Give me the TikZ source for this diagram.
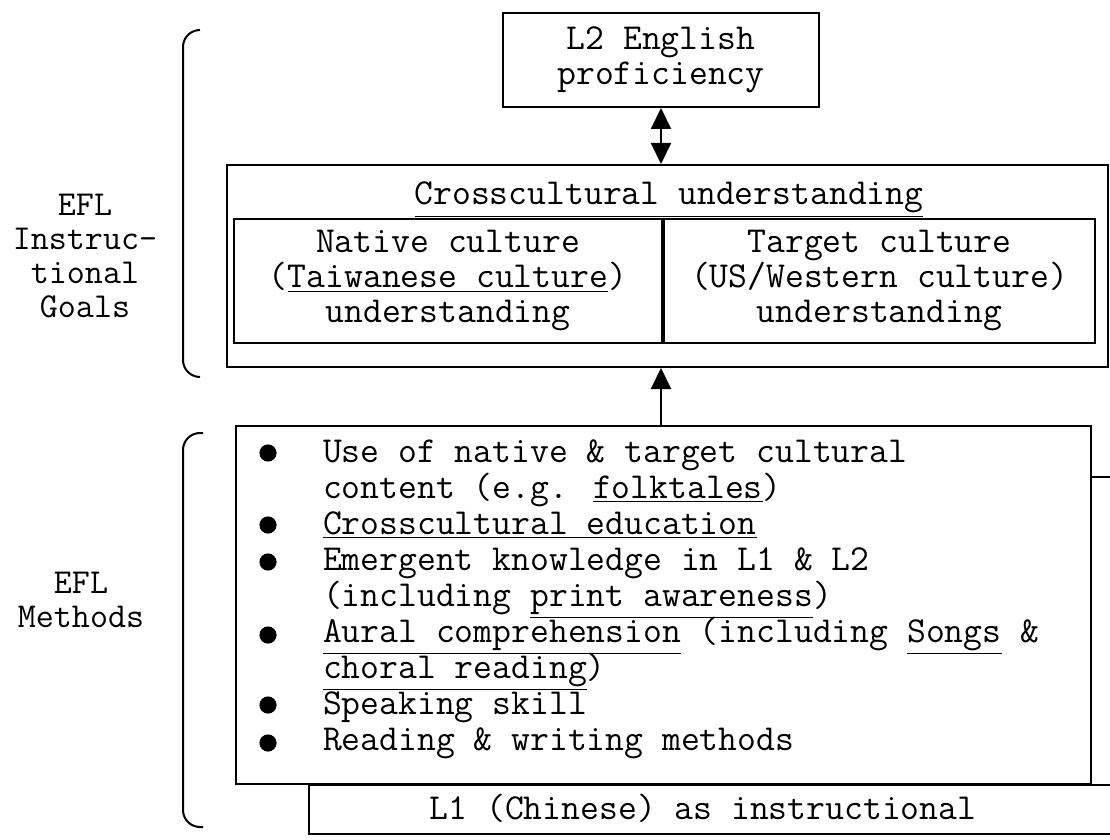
\documentclass[tikz,border=0pt]{standalone}
\usepackage{fontspec}
\usepackage{tikz}
\usetikzlibrary{arrows.meta,positioning}

\begin{document}
\begin{tikzpicture}[x=0.5pt, y=-0.5pt, line width=1pt,
	box node/.style={rectangle,draw,align=center,inner sep=0pt,
		font=\ttfamily\fontsize{18.3}{17.5}\selectfont},
	side node/.style={align=center,font=\ttfamily\fontsize{17.5}{17}\selectfont},
	list node/.style={anchor=base west,inner sep=0pt,font=\ttfamily\fontsize{18.3}{18}\selectfont},
	arr/.style={-{Triangle[width=10pt,length=10.5pt]}}]
	
	\useasboundingbox (0,0) rectangle (1110,840);
	\clip (0,0) rectangle (1110,840);
	
	% goals
	\node[box node, minimum width=158pt, minimum height=47pt] (prof) at (661,60) {L2 English\\proficiency};
	\node[box node, minimum width=440.5pt, minimum height=101pt] (cross) at (667.5,266) {};
	\node[box node, minimum width=214pt, minimum height=62pt] (native) at (448,281)
		{Native culture\\(\underline{Taiwanese culture})\\understanding};
	\node[box node, minimum width=215.5pt, minimum height=62pt] (target) [right=0pt of native]
		{Target culture\\(US/Western culture)\\understanding};
	\node[list node, anchor=base] (crosstitle) at (669,205) {\underline{Crosscultural understanding}};
	
	% methods
	\node[box node, minimum width=427.5pt, minimum height=179pt] (methods) at (663.5,605) {};
	\foreach \y in {453,525,562,635,705,743}
		\fill (268,\y) circle[radius=4.3pt];
	\foreach \txt [count=\i from 0] in {{Use of native \& target cultural},
		{content (e.g. \underline{folktales})},
		{\underline{Crosscultural education}},
		{Emergent knowledge in L1 \& L2},
		{(including \underline{print awareness})},
		{\underline{Aural comprehension} (including \underline{Songs} \&},
		{\underline{choral reading})},
		{Speaking skill},
		{Reading \& writing methods}}
		\node[list node] (item\i) at (322,{462+36*\i}) {\txt};
	\node[box node, minimum width=411pt, minimum height=24.5pt, anchor=north west] (lone) at (308,784) {};
	\node[list node, anchor=base] (lonetext) at (703,819) {L1 (Chinese) as instructional};
	
	% side labels
	\node[side node] (goals) at (85,256) {EFL\\Instruc-\\tional\\Goals};
	\node[side node] (meth) at (81,600) {EFL\\Methods};
	\draw[rounded corners=8.5pt] (200,30) -- (183,30) -- (183,377) -- (200,377);
	\draw[rounded corners=8.5pt] (203,433) -- (183,433) -- (183,827) -- (203,827);
	
	% arrows
	\draw[{Triangle[width=10pt,length=10.5pt]}-{Triangle[width=10pt,length=10.5pt]}]
		(prof.south) -- (prof.south |- cross.north);
	\draw[arr] (methods.north -| prof.south) -- (cross.south -| prof.south);
	\coordinate (offr) at (1125,477);
	\draw (offr -| methods.east) -- (offr);
\end{tikzpicture}
\end{document}
